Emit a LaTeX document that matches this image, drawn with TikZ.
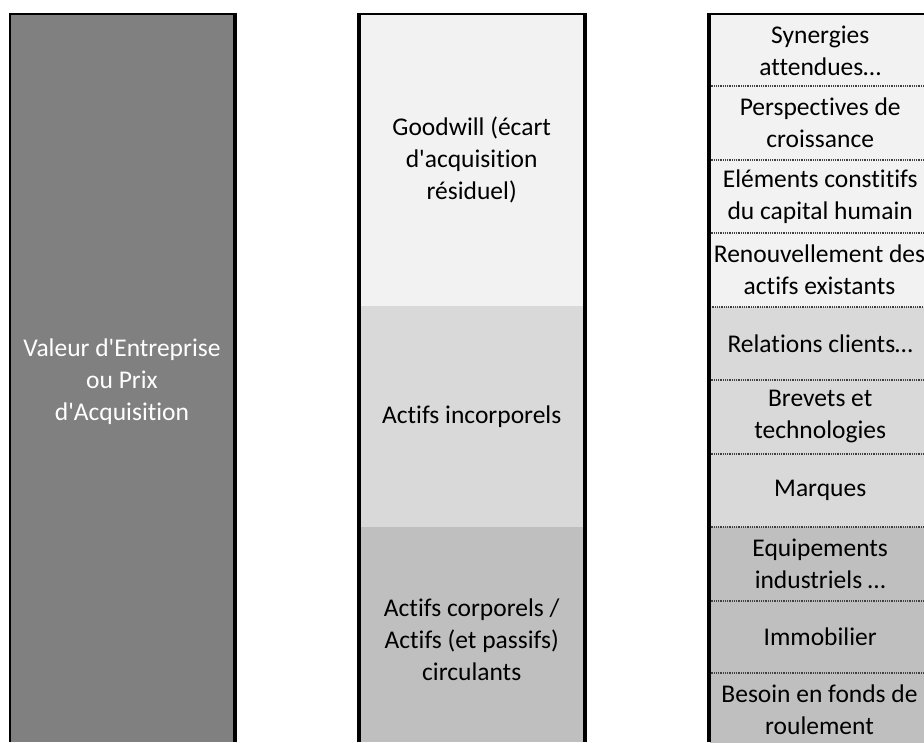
\documentclass[tikz,border=0pt]{standalone}
\usepackage{fontspec}
\newfontfamily\carlitofont[Ligatures=NoCommon]{Carlito}
\definecolor{cDark}{HTML}{808080}
\definecolor{cF}{HTML}{F2F2F2}
\definecolor{cD}{HTML}{D9D9D9}
\definecolor{cB}{HTML}{BFBFBF}
\tikzset{
  cellbox/.style={rectangle, draw=none, inner sep=0pt, align=center,
    font=\carlitofont\fontsize{25.5}{32}\selectfont},
  sepline/.style={draw=black!75, line width=1.6pt, dash pattern=on 1pt off 0.8pt},
  border/.style={fill=black}
}
\begin{document}
\begin{tikzpicture}[x=1pt,y=1pt]
\useasboundingbox (0,0) rectangle (924,-742);
% left column
\fill[cDark] (11.3,-14.7) rectangle (232.7,-742);
\node[cellbox, text=white, minimum width=221.4pt]
  (val) at (122,-382) {Valeur d'Entreprise\\ou Prix\\d'Acquisition};
\fill[border] (9.3,-12.7) rectangle (11.3,-742);
\fill[border] (9.3,-12.7) rectangle (236.7,-14.7);
\fill[border] (232.7,-12.7) rectangle (236.7,-742);
% middle column
\node[cellbox, fill=cF, minimum width=222pt, minimum height=291.3pt]
  (gw) at (471.7,-160.35) {Goodwill (écart\\d'acquisition\\résiduel)};
\node[cellbox, fill=cD, minimum width=222pt, minimum height=221pt]
  (inc) at (471.7,-416.5) {Actifs incorporels};
\fill[cB] (360.7,-527) rectangle (582.7,-742);
\node[cellbox, minimum width=222pt]
  (corp) at (471.7,-640) {Actifs corporels /\\Actifs (et passifs)\\circulants};
\fill[border] (356.7,-12.7) rectangle (360.7,-742);
\fill[border] (356.7,-12.7) rectangle (586.7,-14.7);
\fill[border] (582.7,-12.7) rectangle (586.7,-742);
% right column
\node[cellbox, fill=cF, minimum width=219pt, minimum height=71.3pt] (r1) at (820.2,-50.35) {Synergies\\attendues…};
\node[cellbox, fill=cF, minimum width=219pt, minimum height=74pt] (r2) at (820.2,-123) {Perspectives de\\croissance};
\node[cellbox, fill=cF, minimum width=219pt, minimum height=73pt] (r3) at (820.2,-196.5) {Eléments constitifs\\du capital humain};
\node[cellbox, fill=cF, minimum width=219pt, minimum height=74pt] (r4) at (819.5,-270) {Renouvellement des\\actifs existants};
\node[cellbox, fill=cD, minimum width=219pt, minimum height=73pt] (r5) at (820.2,-343.5) {Relations clients…};
\node[cellbox, fill=cD, minimum width=219pt, minimum height=74pt] (r6) at (820.2,-417) {Brevets et\\technologies};
\node[cellbox, fill=cD, minimum width=219pt, minimum height=73pt] (r7) at (820.2,-490.5) {Marques};
\node[cellbox, fill=cB, minimum width=219pt, minimum height=74pt] (r8) at (820.2,-564) {Equipements\\industriels …};
\node[cellbox, fill=cB, minimum width=219pt, minimum height=72pt] (r9) at (820.2,-637) {Immobilier};
\node[cellbox, fill=cB, minimum width=219pt, minimum height=74pt] (r10) at (819.5,-710) {Besoin en fonds de\\roulement};
\foreach \a in {r1,r2,r3,r4,r5,r6,r7,r8,r9}
  \draw[sepline] (\a.south west) -- (\a.south east);
\fill[border] (706.7,-12.7) rectangle (710.7,-742);
\fill[border] (706.7,-12.7) rectangle (924,-14.7);
\end{tikzpicture}
\end{document}
